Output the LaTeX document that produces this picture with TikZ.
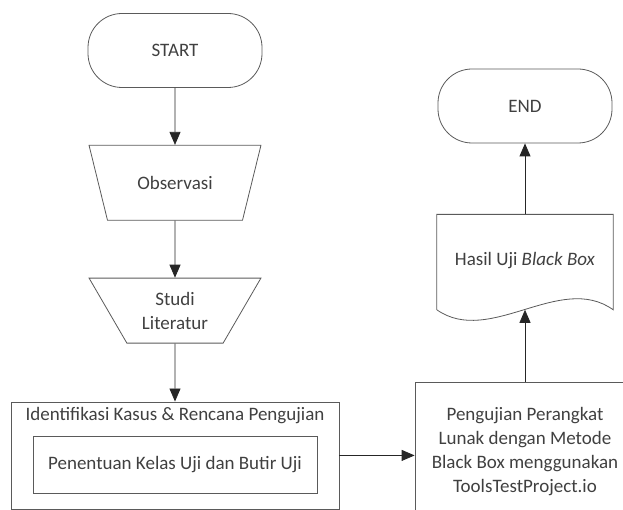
\documentclass[tikz,border=0pt]{standalone}
\usepackage{fontspec}
\setmainfont{Carlito}
\usepackage{xcolor}
\usepackage{tikz}
\usetikzlibrary{arrows.meta,positioning,shapes.geometric}

\definecolor{garis}{HTML}{5A5A5A}
\definecolor{teks}{HTML}{404040}

\begin{document}
\begin{tikzpicture}[
    x=1pt, y=-1pt,
    font=\fontsize{19pt}{24pt}\selectfont,
    terminal/.style={rectangle, draw=garis, rounded corners=34pt, text=teks, minimum width=174pt, minimum height=74pt, line width=0.8pt},
    manual/.style={trapezium, shape border rotate=180, trapezium stretches=true, draw=garis, text=teks, minimum width=172pt, align=center, line width=0.8pt},
    process/.style={rectangle, draw=garis, text=teks, align=center, line width=0.8pt},
    docbox/.style={rectangle, text=teks, minimum width=176pt, minimum height=95pt},
    arrow/.style={-{Triangle[width=11pt,length=13pt]}, draw=black!85, line width=0.8pt}
]
\useasboundingbox (0,0) rectangle (623,510);

% Nodes
\node[terminal] (start) at (175,50.5) {START};
\node[manual, trapezium angle=60.7, minimum height=75pt, below=57pt of start] (observasi) {Observasi};
\node[manual, trapezium angle=57, minimum height=65pt, below=57pt of observasi] (studi) {Studi\\Literatur};
\node[process, minimum width=328pt, minimum height=107pt, below=58pt of studi] (identifikasi) {};
\node[text=teks] (judul) at ([yshift=-14pt]identifikasi.north) {Identifikasi Kasus \& Rencana Pengujian};
\node[process, minimum width=284pt, minimum height=57pt, above=16pt of identifikasi.south] (penentuan) {Penentuan Kelas Uji dan Butir Uji};

\node[terminal] (end) at (525,106) {END};
\node[docbox, below=71pt of end] (hasil) {\raisebox{7pt}{Hasil Uji \textit{Black Box}}};
\node[process, minimum width=220pt, minimum height=138pt, below=72pt of hasil] (pengujian) {Pengujian Perangkat\\Lunak dengan Metode\\Black Box menggunakan\\ToolsTestProject.io};

% document outline
\draw[draw=garis, line width=0.8pt] (hasil.south west) -- (hasil.north west) -- (hasil.north east) -- (hasil.south east)
    .. controls +(-53,-38) and +(53,37) .. (hasil.south west);

% Edges
\draw[arrow] (start) -- (observasi);
\draw[arrow] (observasi) -- (studi);
\draw[arrow] (studi) -- (identifikasi);
\draw[arrow] (identifikasi.east) -- (identifikasi.east -| pengujian.west);
\draw[arrow] (pengujian) -- (hasil.south);
\draw[arrow] (hasil) -- (end);

\end{tikzpicture}
\end{document}
